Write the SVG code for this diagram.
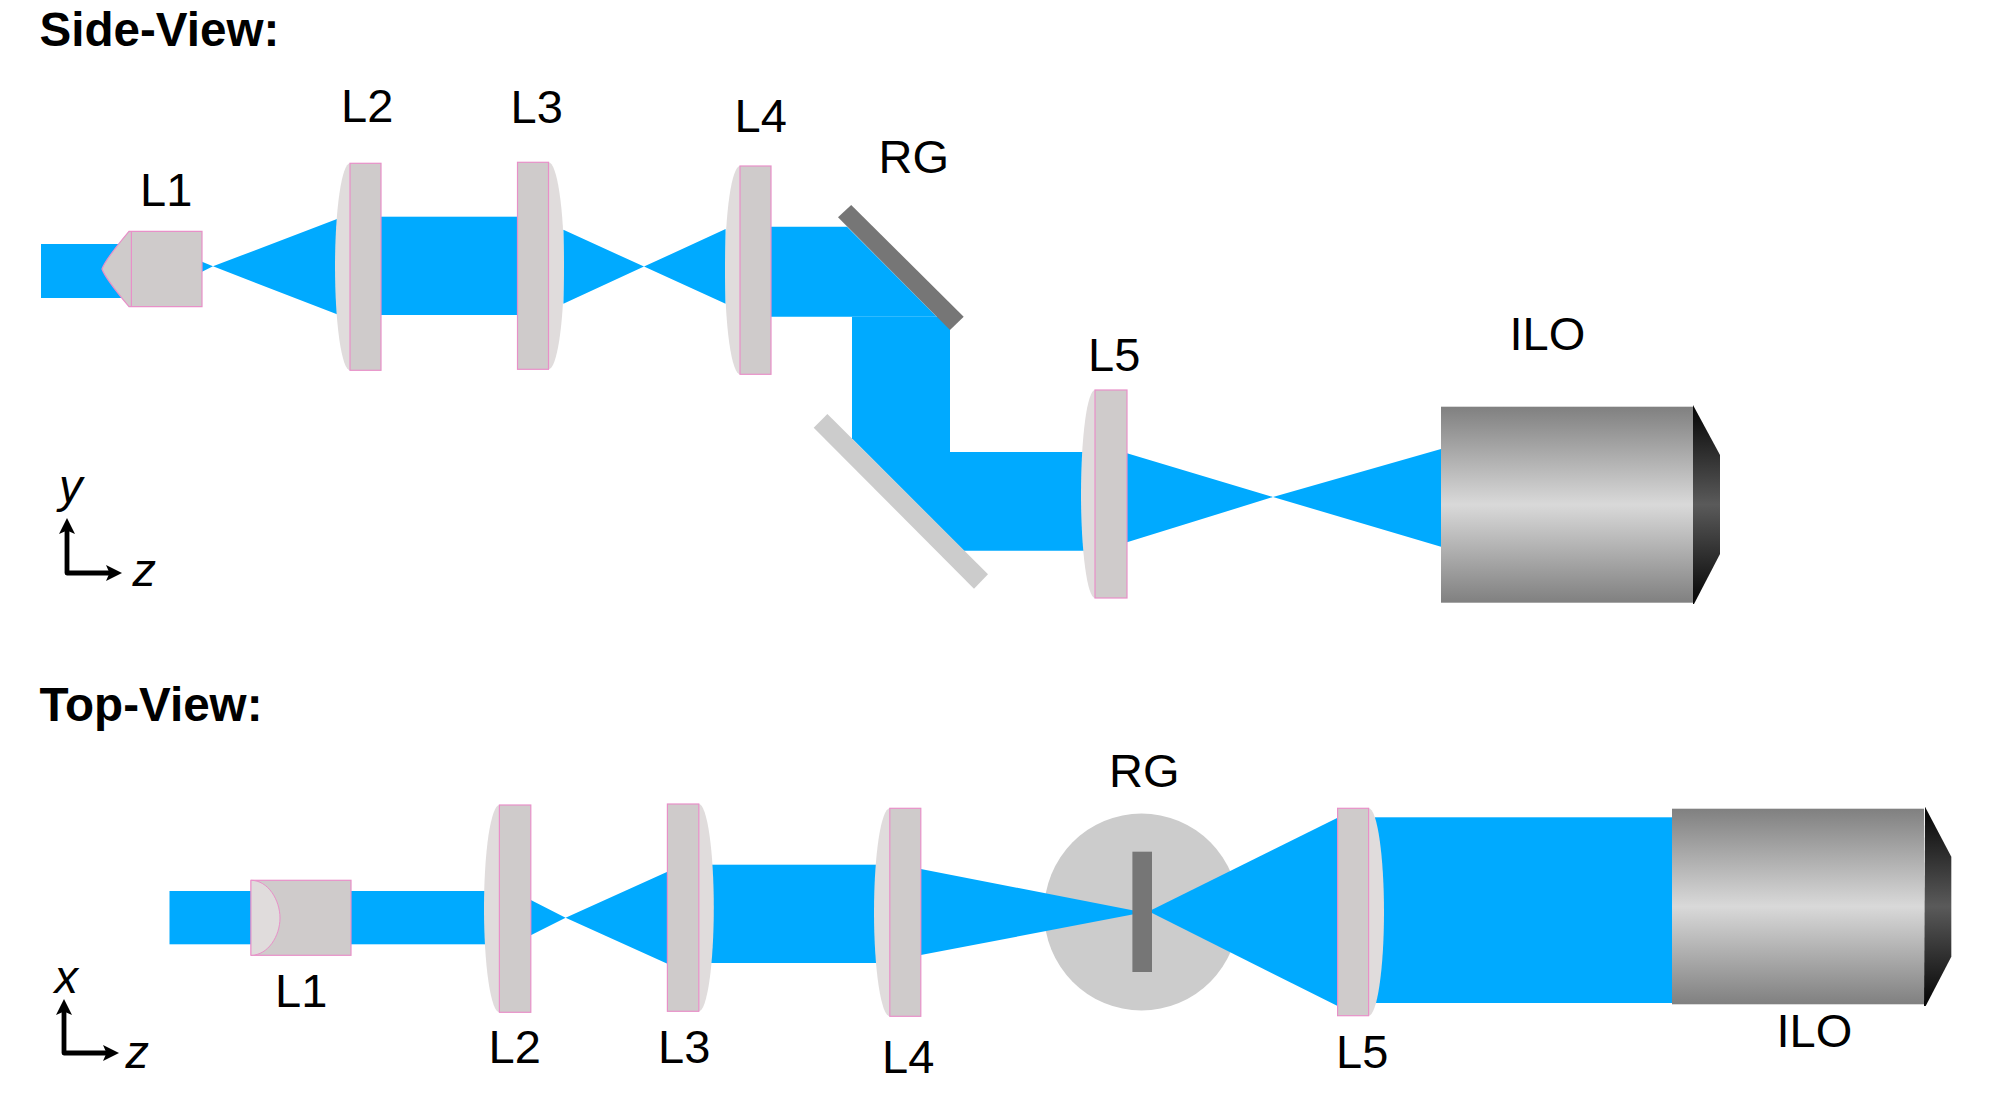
<svg xmlns="http://www.w3.org/2000/svg" width="2000" height="1100" viewBox="0 0 2000 1100">
<style>
text{font-family:"Liberation Sans",Arial,sans-serif;font-size:47px;fill:#000}
.h{font-weight:bold;font-size:47.6px}
.i{font-style:italic}
.beam{fill:#00aaff}
.bulge{fill:#e0dcdc}
.body{fill:#cfcbcb;stroke:#e890c8;stroke-width:1.2}
.div{fill:none;stroke:#e890c8;stroke-width:1.2}
.dark{fill:#767676}
.light{fill:#cccccc}
.ax{fill:none;stroke:#000;stroke-width:4.8;stroke-linejoin:round}
</style>
<defs>
<linearGradient id="barrel" x1="0" y1="0" x2="0" y2="1"><stop offset="0" stop-color="#808080"/><stop offset="0.5" stop-color="#d9d9d9"/><stop offset="1" stop-color="#808080"/></linearGradient>
<linearGradient id="cap" x1="0" y1="0" x2="0" y2="1"><stop offset="0" stop-color="#050505"/><stop offset="0.5" stop-color="#5a5a5a"/><stop offset="1" stop-color="#050505"/></linearGradient>
<path id="head" d="M0 0L-16 -8L-12.5 0L-16 8Z" fill="#000"/>
</defs>
<g id="side-beams" class="beam">
<rect x="41" y="244" width="95" height="54"/>
<path d="M202 261.7L213 266.3L337 219V314.3L213 266.3L202 271.7Z"/>
<rect x="375" y="216.7" width="150" height="98.3"/>
<path d="M563.4 229.7L644 266.6L725.6 229V303.7L644 266.6L563.4 303.7Z"/>
<path d="M765 226.7H847L950 330V316.7H765Z"/>
<path d="M852 316.7H950V452H865.5L852 438.5Z"/>
<path d="M865.5 452H1090V550.7H964Z"/>
<path d="M1127 453.3L1273 497L1441 449V546.7L1273 497L1127 542.3Z"/>
</g>
<g id="side-RG"><polygon class="dark" points="851.2,205 838,217.3 950,330 963.7,316.7"/></g>
<g id="side-mirror"><polygon class="light" points="827.4,414 813.7,427.7 974,588.7 988,574.3"/></g>
<g id="side-L1"><path class="body" d="M129 231.3H202V306.7H129Q105 278 102 269Q105 260 129 231.3Z"/><path class="div" d="M131.4 231.3V306.7"/></g>
<g id="side-L2"><path class="bulge" d="M350 163.3A15 103.5 0 0 0 350 370.3Z"/><rect class="body" x="350" y="163.3" width="31" height="207"/></g>
<g id="side-L3"><path class="bulge" d="M548.5 162.3A15.5 103.5 0 0 1 548.5 369.3Z"/><rect class="body" x="517.5" y="162.3" width="31" height="207"/></g>
<g id="side-L4"><path class="bulge" d="M740 166A15 104 0 0 0 740 374.3Z"/><rect class="body" x="740" y="166" width="31" height="208.3"/></g>
<g id="side-L5"><path class="bulge" d="M1095 390A14 104 0 0 0 1095 598Z"/><rect class="body" x="1095" y="390" width="32" height="208"/></g>
<g id="side-ILO"><rect x="1441" y="406.7" width="252" height="196" fill="url(#barrel)"/><polygon points="1693,405 1720,455 1720,554 1694,604 1693,604" fill="url(#cap)"/></g>
<g id="top-beams" class="beam">
<rect x="169.5" y="891" width="320" height="53.3"/>
<path d="M530.8 900L565.6 917.7L667.4 871.7V963.7L565.6 917.7L530.8 935.3Z"/>
<rect x="710" y="864.7" width="170" height="98.3"/>
</g>
<g id="top-grating"><ellipse class="light" cx="1141.5" cy="912" rx="97.5" ry="98.5"/></g>
<g id="top-cones" class="beam">
<path d="M920.8 869L1135 910.7V914L920.8 955Z"/>
<path d="M1150 910.7L1337.6 817.7V1006L1150 912Z"/>
<rect x="1375" y="817.3" width="300" height="185.7"/>
</g>
<g id="top-RG"><rect class="dark" x="1132.4" y="851.7" width="19.6" height="120.3"/></g>
<g id="top-L1"><rect class="body" x="251" y="880.3" width="100" height="75"/><path d="M251 880.3C268 880.3 280 900 280 918C280 936 268 955.3 251 955.3Z" class="bulge" stroke="#e890c8" stroke-width="1"/></g>
<g id="top-L2"><path class="bulge" d="M499.4 805A15.4 103.6 0 0 0 499.4 1012.3Z"/><rect class="body" x="499.4" y="805" width="31.4" height="207.3"/></g>
<g id="top-L3"><path class="bulge" d="M698.8 804A15 103.6 0 0 1 698.8 1011.3Z"/><rect class="body" x="667.4" y="804" width="31.4" height="207.3"/></g>
<g id="top-L4"><path class="bulge" d="M889.8 808.3A15.8 104 0 0 0 889.8 1016.3Z"/><rect class="body" x="889.8" y="808.3" width="31" height="208"/></g>
<g id="top-L5"><path class="bulge" d="M1368.6 808.3A15.4 103.7 0 0 1 1368.6 1015.7Z"/><rect class="body" x="1337.6" y="808.3" width="31" height="207.4"/></g>
<g id="top-ILO"><rect x="1672" y="808.7" width="252" height="195.6" fill="url(#barrel)"/><polygon points="1925,806.7 1951.3,856.7 1951.3,956.7 1925.7,1006 1924,1006" fill="url(#cap)"/></g>
<g id="axes">
<path class="ax" d="M67 528V573H112"/>
<use href="#head" transform="translate(122 573)"/>
<use href="#head" transform="translate(67 518) rotate(-90)"/>
<path class="ax" d="M64 1009V1053H109"/>
<use href="#head" transform="translate(119 1053)"/>
<use href="#head" transform="translate(64 999) rotate(-90)"/>
</g>
<g id="labels">
<text class="h" x="39.5" y="46">Side-View:</text>
<text class="h" x="39.5" y="721">Top-View:</text>
<text x="140" y="206">L1</text>
<text x="341" y="121.5">L2</text>
<text x="510.5" y="122.5">L3</text>
<text x="734.5" y="131.5">L4</text>
<text x="878.5" y="173">RG</text>
<text x="1088" y="370.5">L5</text>
<text x="1509.5" y="350">ILO</text>
<text class="i" x="59" y="502">y</text>
<text class="i" x="132.5" y="586">z</text>
<text class="i" x="54.5" y="993">x</text>
<text class="i" x="125.5" y="1068">z</text>
<text x="275" y="1007">L1</text>
<text x="488.5" y="1062.5">L2</text>
<text x="658" y="1062.5">L3</text>
<text x="882" y="1072.5">L4</text>
<text x="1109" y="787">RG</text>
<text x="1336" y="1067.5">L5</text>
<text x="1776.5" y="1047">ILO</text>
</g>
</svg>
